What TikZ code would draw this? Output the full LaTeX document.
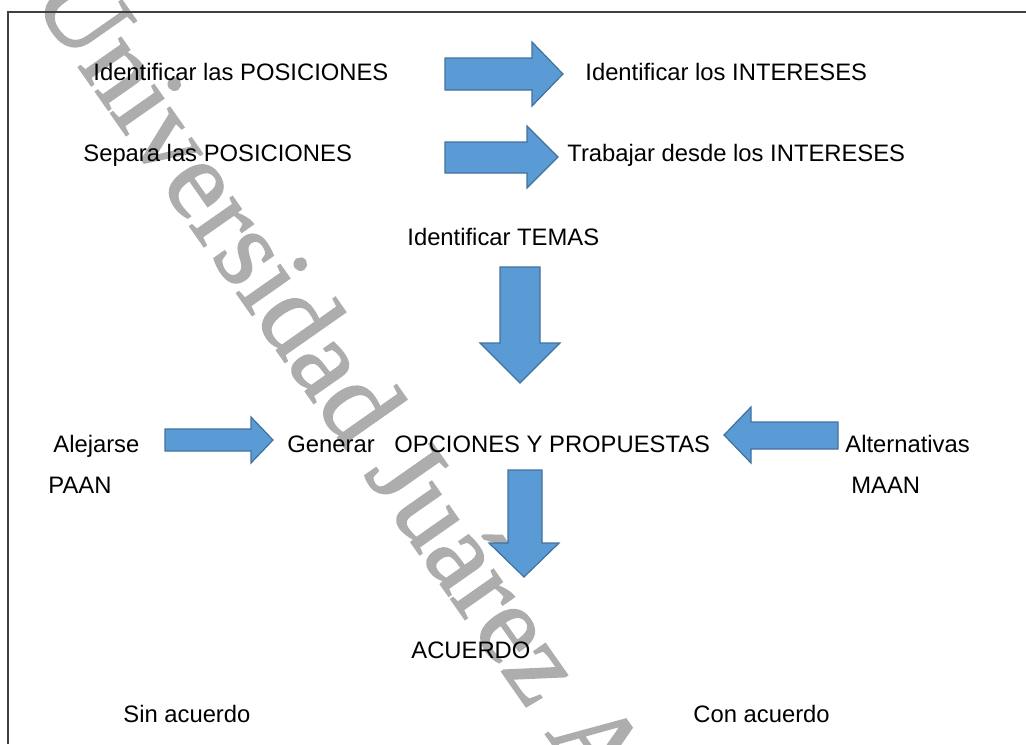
\documentclass[tikz,border=0pt]{standalone}
\usepackage{fontspec}
\setmainfont{Liberation Sans}
\newfontfamily\marcafont[FakeBold=1.5]{Liberation Serif}
\usepackage{tikz}
\usetikzlibrary{calc}

\definecolor{flechaazul}{HTML}{5B9BD5}
\definecolor{bordeazul}{HTML}{41719C}
\definecolor{marco}{HTML}{404040}
\definecolor{grismarca}{HTML}{ADADAD}

\tikzset{
    lbl/.style={anchor=base west, inner sep=0pt},
    bloque/.style={fill=flechaazul, draw=bordeazul, line width=0.6pt, line join=miter},
    marca/.style={anchor=base west, inner sep=0pt, text=grismarca, rotate=-55,
        font=\marcafont\fontsize{56.5}{62}\selectfont}
}

\begin{document}
\begin{tikzpicture}[x=0.5pt, y=-0.5pt, font=\fontsize{11.9}{14}\selectfont]
        \useasboundingbox (0,0) rectangle (1026,744);
        % marca de agua
        \node[marca] (agua) at (30,-2) {Universidad Juárez A};
        % marco
        \draw[marco, line width=0.8pt] (1026,12) -- (8,12) -- (8,744);
        % textos
        \node[lbl] (idpos) at (93,80) {Identificar las POSICIONES};
        \node[lbl] (idint) at (585,80) {Identificar los INTERESES};
        \node[lbl] (seppos) at (83,161) {Separa las POSICIONES};
        \node[lbl] (trabint) at (567,161) {Trabajar desde los INTERESES};
        \node[lbl] (temas) at (407,245) {Identificar TEMAS};
        \node[lbl] (alejarse) at (53,452) {Alejarse};
        \node[lbl] (paan) at (48,493) {PAAN};
        \node[lbl] (generar) at (287,452) {Generar};
        \node[lbl] (opciones) at (394,452) {OPCIONES Y PROPUESTAS};
        \node[lbl] (altern) at (845,452) {Alternativas};
        \node[lbl] (maan) at (851,493) {MAAN};
        \node[lbl] (acuerdo) at (411,658) {ACUERDO};
        \node[lbl] (sinac) at (123,722) {Sin acuerdo};
        \node[lbl] (conac) at (693,722) {Con acuerdo};
        % flechas
        \draw[bloque] (445,58) -- (532,58) -- (532,42) -- (563,74) -- (532,106) -- (532,90) -- (445,90) -- cycle;
        \draw[bloque] (445,142) -- (527,142) -- (527,126) -- (558,157) -- (527,188) -- (527,173) -- (445,173) -- cycle;
        \draw[bloque] (500,267) -- (540,267) -- (540,343) -- (560,343) -- (520,383) -- (480,343) -- (500,343) -- cycle;
        \draw[bloque] (165,429) -- (251,429) -- (251,417) -- (273,440) -- (251,463) -- (251,451) -- (165,451) -- cycle;
        \draw[bloque] (838,422) -- (751,422) -- (751,407) -- (724,435) -- (751,463) -- (751,449) -- (838,449) -- cycle;
        \draw[bloque] (508,470) -- (542,470) -- (542,543) -- (559,543) -- (524,577) -- (489,543) -- (508,543) -- cycle;
    \end{tikzpicture}
\end{document}
